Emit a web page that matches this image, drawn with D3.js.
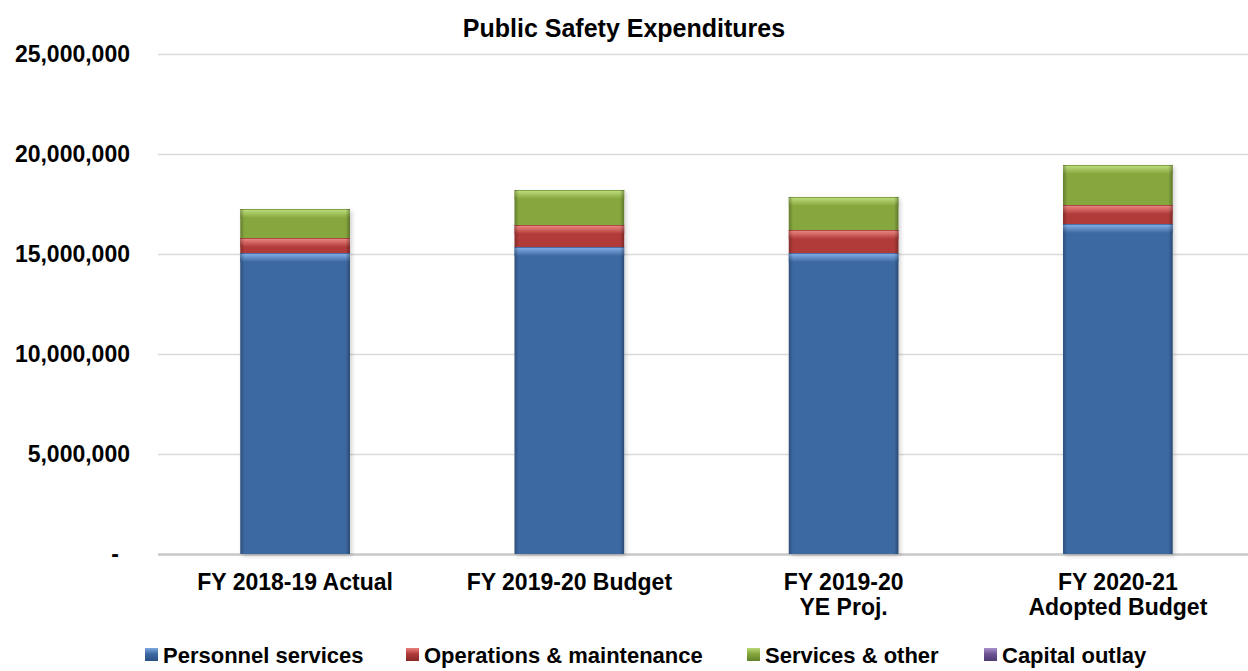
<!DOCTYPE html>
<html>
<head>
<meta charset="utf-8">
<script src="https://cdn.jsdelivr.net/npm/d3@7"></script>
<style>
  html, body { margin: 0; padding: 0; background: #fff; }
  svg { display: block; font-family: "Liberation Sans", Arial, sans-serif; }
</style>
</head>
<body>
<div id="chart"></div>
<script>
const categories = [
  ["FY 2018-19 Actual"],
  ["FY 2019-20 Budget"],
  ["FY 2019-20", "YE Proj."],
  ["FY 2020-21", "Adopted Budget"]
]
const seriesNames = ["Personnel services", "Operations & maintenance", "Services & other", "Capital outlay"]
const personnel = [15050000, 15350000, 15050000, 16500000]
const operations = [750000, 1100000, 1150000, 950000]
const services = [1450000, 1750000, 1650000, 2000000]
const capital = [0, 0, 0, 0]
const yTicks = [0, 5000000, 10000000, 15000000, 20000000, 25000000]

const colors = ["#3d69a3", "#b13b39", "#86a73e", "#6e5595"]
const lights = ["#7ea8e0", "#e8807c", "#b9d877", "#a892cc"]
const darks = ["#2a4f84", "#872927", "#62802a", "#4f3c73"]

const width = 1248, height = 671
const margin = { top: 54, left: 158, bottom: 117 }

const svg = d3.select("#chart").append("svg")
  .attr("width", width)
  .attr("height", height)

const defs = svg.append("defs")
colors.forEach((c, i) => {
  const g = defs.append("linearGradient")
    .attr("id", "top" + i)
    .attr("x1", 0).attr("y1", 0).attr("x2", 0).attr("y2", 1)
  g.append("stop").attr("offset", "0%").attr("stop-color", darks[i])
  g.append("stop").attr("offset", "15%").attr("stop-color", lights[i])
  g.append("stop").attr("offset", "100%").attr("stop-color", c)
  const s = defs.append("linearGradient")
    .attr("id", "sq" + i)
    .attr("x1", 0).attr("y1", 0).attr("x2", 0).attr("y2", 1)
  s.append("stop").attr("offset", "0%").attr("stop-color", lights[i])
  s.append("stop").attr("offset", "45%").attr("stop-color", c)
  s.append("stop").attr("offset", "100%").attr("stop-color", darks[i])
})
const side = defs.append("linearGradient")
  .attr("id", "side")
  .attr("x1", 0).attr("y1", 0).attr("x2", 1).attr("y2", 0)
side.append("stop").attr("offset", "0%").attr("stop-color", "#000").attr("stop-opacity", 0.25)
side.append("stop").attr("offset", "4%").attr("stop-color", "#000").attr("stop-opacity", 0)
side.append("stop").attr("offset", "96%").attr("stop-color", "#000").attr("stop-opacity", 0)
side.append("stop").attr("offset", "100%").attr("stop-color", "#000").attr("stop-opacity", 0.3)

const shadow = defs.append("filter").attr("id", "shadow")
  .attr("x", "-10%").attr("y", "-10%").attr("width", "130%").attr("height", "130%")
shadow.append("feDropShadow")
  .attr("dx", 2).attr("dy", 2).attr("stdDeviation", 2)
  .attr("flood-color", "#000").attr("flood-opacity", 0.18)

const x = d3.scaleBand()
  .domain(d3.range(categories.length))
  .range([margin.left, 1255])
  .paddingInner(0.6)
  .paddingOuter(0.3)

const y = d3.scaleLinear()
  .domain([0, 25000000])
  .range([height - margin.bottom, margin.top])

// gridlines
svg.append("g")
  .selectAll("line")
  .data(yTicks)
  .join("line")
    .attr("x1", margin.left)
    .attr("x2", width)
    .attr("y1", d => Math.round(y(d)) + 0.5)
    .attr("y2", d => Math.round(y(d)) + 0.5)
    .attr("stroke", d => d === 0 ? "#c8c8c8" : "#dadada")
    .attr("stroke-width", d => d === 0 ? 2.5 : 1.5)

// y labels (accounting style: zero shown as a dash, set in from the edge)
const fmt = d => d === 0 ? "-" : d3.format(",")(d)
svg.append("g")
  .selectAll("text")
  .data(yTicks)
  .join("text")
    .attr("x", d => d === 0 ? 119 : 130)
    .attr("y", d => y(d))
    .attr("dy", "0.36em")
    .attr("text-anchor", "end")
    .attr("font-size", 23)
    .attr("font-weight", "bold")
    .text(fmt)

const stack = d3.stack().keys([0, 1, 2, 3])
const rows = categories.map((c, i) => [personnel[i], operations[i], services[i], capital[i]])
const layers = stack(rows)

// shadow behind each full stack
svg.append("g")
  .selectAll("rect")
  .data(d3.range(categories.length))
  .join("rect")
    .attr("x", i => x(i))
    .attr("width", x.bandwidth())
    .attr("y", i => y(layers[layers.length - 1][i][1]))
    .attr("height", i => y(0) - y(layers[layers.length - 1][i][1]))
    .attr("fill", "#fff")
    .attr("filter", "url(#shadow)")

const bars = svg.append("g")
layers.forEach((layer, k) => {
  const g = bars.append("g")
  const idx = layer.map((d, i) => i).filter(i => layer[i][1] > layer[i][0])
  g.selectAll("rect.main")
    .data(idx)
    .join("rect")
      .attr("class", "main")
      .attr("x", i => x(i))
      .attr("width", x.bandwidth())
      .attr("y", i => y(layer[i][1]))
      .attr("height", i => y(layer[i][0]) - y(layer[i][1]))
      .attr("fill", colors[k])
  g.selectAll("rect.hi")
    .data(idx)
    .join("rect")
      .attr("class", "hi")
      .attr("x", i => x(i))
      .attr("width", x.bandwidth())
      .attr("y", i => y(layer[i][1]))
      .attr("height", i => Math.min(9, y(layer[i][0]) - y(layer[i][1])))
      .attr("fill", "url(#top" + k + ")")
  g.selectAll("rect.side")
    .data(idx)
    .join("rect")
      .attr("class", "side")
      .attr("x", i => x(i))
      .attr("width", x.bandwidth())
      .attr("y", i => y(layer[i][1]))
      .attr("height", i => y(layer[i][0]) - y(layer[i][1]))
      .attr("fill", "url(#side)")
})

// category labels
const catG = svg.append("g")
categories.forEach((lines, i) => {
  const cx = x(i) + x.bandwidth() / 2
  const t = catG.append("text")
    .attr("x", cx)
    .attr("y", 590)
    .attr("text-anchor", "middle")
    .attr("font-size", 23)
    .attr("font-weight", "bold")
  lines.forEach((l, j) => {
    t.append("tspan")
      .attr("x", cx)
      .attr("dy", j === 0 ? 0 : 25)
      .text(l)
  })
})

// title
svg.append("text")
  .attr("x", 624)
  .attr("y", 37)
  .attr("text-anchor", "middle")
  .attr("font-size", 25)
  .attr("font-weight", "bold")
  .text("Public Safety Expenditures")

// legend
const legendX = [145, 406, 747, 984]
const lg = svg.append("g")
seriesNames.forEach((name, i) => {
  const g = lg.append("g").attr("transform", `translate(${legendX[i]},663)`)
  g.append("rect")
    .attr("x", 0).attr("y", -15)
    .attr("width", 13).attr("height", 13)
    .attr("fill", "url(#sq" + i + ")")
  g.append("text")
    .attr("x", 18)
    .attr("y", 0)
    .attr("font-size", 22)
    .attr("font-weight", "bold")
    .text(name)
})
</script>
</body>
</html>
